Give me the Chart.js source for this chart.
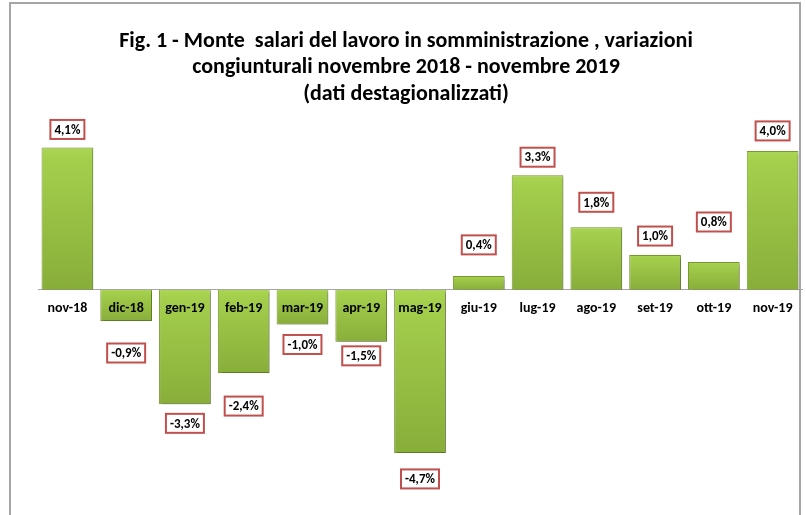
<!DOCTYPE html>
<html lang="it">
<head>
<meta charset="utf-8">
<title>Monte salari lavoro in somministrazione</title>
<script src="https://cdn.jsdelivr.net/npm/chart.js@4"></script>
<style>
  html, body { margin: 0; padding: 0; background: #fff; }
  #wrap { position: relative; width: 806px; height: 515px; overflow: hidden; }
  #frame { position: absolute; left: 9px; top: 2px; width: 792px; height: 530px;
           border: 2px solid #a6a6a6; box-sizing: border-box; pointer-events: none; }
  canvas { position: absolute; left: 0; top: 0; }
</style>
</head>
<body>
<div id="wrap">
  <canvas id="grafico" width="806" height="515"></canvas>
  <div id="frame"></div>
</div>
<script>
// Dati: variazioni congiunturali (%)
const mesi = ['nov-18', 'dic-18', 'gen-19', 'feb-19', 'mar-19', 'apr-19', 'mag-19',
              'giu-19', 'lug-19', 'ago-19', 'set-19', 'ott-19', 'nov-19'];
const variazioni = [4.1, -0.9, -3.3, -2.4, -1.0, -1.5, -4.7, 0.4, 3.3, 1.8, 1.0, 0.8, 4.0];

// Distanza (px) dell'etichetta dalla fine della barra, come nell'originale
const distanzaEtichetta = [18, 32, 19, 33, 20, 14, 26, 31, 18, 25, 19, 40, 20];

const titolo = [
    'Fig. 1 - Monte  salari del lavoro in somministrazione , variazioni',
    'congiunturali novembre 2018 - novembre 2019',
    '(dati destagionalizzati)'
];

const FONT = 'Carlito, "Liberation Sans Narrow", "DejaVu Sans Condensed", "Open Sans", sans-serif';

function formatta(v) {
    return v.toFixed(1).replace('.', ',') + '%';
}

// Etichette dei valori nei riquadri bordati di rosso
const pluginEtichette = {
    id: 'etichette',
    afterDatasetsDraw(chart) {
        const ctx = chart.ctx;
        const meta = chart.getDatasetMeta(0);
        ctx.save();
        ctx.font = 'bold 13px ' + FONT;
        ctx.textAlign = 'center';
        ctx.textBaseline = 'middle';
        meta.data.forEach((barra, i) => {
            const v = variazioni[i];
            const testo = formatta(v);
            const cy = v >= 0 ? barra.y - distanzaEtichetta[i] : barra.y + distanzaEtichetta[i];
            const w = ctx.measureText(testo).width + 8;
            const h = 19;
            ctx.fillStyle = '#ffffff';
            ctx.fillRect(barra.x - w / 2, cy - h / 2, w, h);
            ctx.strokeStyle = '#c0504d';
            ctx.lineWidth = 2;
            ctx.strokeRect(barra.x - w / 2, cy - h / 2, w, h);
            ctx.fillStyle = '#000000';
            ctx.fillText(testo, barra.x, cy + 1);
        });
        ctx.restore();
    }
};

// Ombra leggera sotto le barre
const pluginOmbra = {
    id: 'ombra',
    beforeDatasetsDraw(chart) {
        const ctx = chart.ctx;
        ctx.save();
        ctx.shadowColor = 'rgba(0,0,0,0.3)';
        ctx.shadowBlur = 3;
        ctx.shadowOffsetX = 2;
        ctx.shadowOffsetY = 2;
    },
    afterDatasetsDraw(chart) {
        chart.ctx.restore();
    }
};

// Sfumatura verticale su ogni barra (chiara in alto, più scura in basso)
function coloreBarra(context) {
    const chart = context.chart;
    const sx = chart.scales.x, sy = chart.scales.y;
    if (!chart.chartArea || !sx || !sy) return '#9bc743';
    const v = variazioni[context.dataIndex];
    const y0 = sy.getPixelForValue(0);
    const y1 = sy.getPixelForValue(v);
    const alto = Math.min(y0, y1), basso = Math.max(y0, y1);
    if (!isFinite(alto) || basso - alto < 1) return '#9bc743';
    const g = chart.ctx.createLinearGradient(0, alto, 0, basso);
    g.addColorStop(0, '#abd655');
    g.addColorStop(0.08, '#a4cf4c');
    g.addColorStop(1, '#88ae3a');
    return g;
}

const ctx = document.getElementById('grafico').getContext('2d');
new Chart(ctx, {
    type: 'bar',
    data: {
        labels: mesi,
        datasets: [{
            data: variazioni,
            backgroundColor: coloreBarra,
            borderColor: '#789a31',
            borderWidth: 1,
            barPercentage: 0.88,
            categoryPercentage: 1.0
        }]
    },
    options: {
        responsive: false,
        animation: false,
        layout: { padding: { left: 10, right: 4, top: 0, bottom: 10 } },
        plugins: {
            legend: { display: false },
            tooltip: { enabled: false },
            title: {
                display: true,
                text: titolo,
                color: '#000000',
                font: { family: FONT, size: 22, weight: 'bold', lineHeight: 1.2 },
                padding: { top: 28, bottom: 9 }
            }
        },
        scales: {
            x: {
                position: { y: 0 },
                grid: { display: false, drawTicks: false },
                border: { display: true, color: '#a6a6a6', width: 1 },
                ticks: {
                    z: 1,
                    color: '#000000',
                    padding: 10,
                    maxRotation: 0,
                    autoSkip: false,
                    font: { family: FONT, size: 14, weight: 'bold' }
                }
            },
            y: {
                display: true,
                min: -6.2,
                max: 5,
                grid: { display: false, drawTicks: false },
                border: { display: false },
                ticks: { display: false },
                // spazio vuoto a sinistra dell'area del grafico
                afterFit(scale) { scale.width = 28; }
            }
        }
    },
    plugins: [pluginOmbra, pluginEtichette]
});
</script>
</body>
</html>
